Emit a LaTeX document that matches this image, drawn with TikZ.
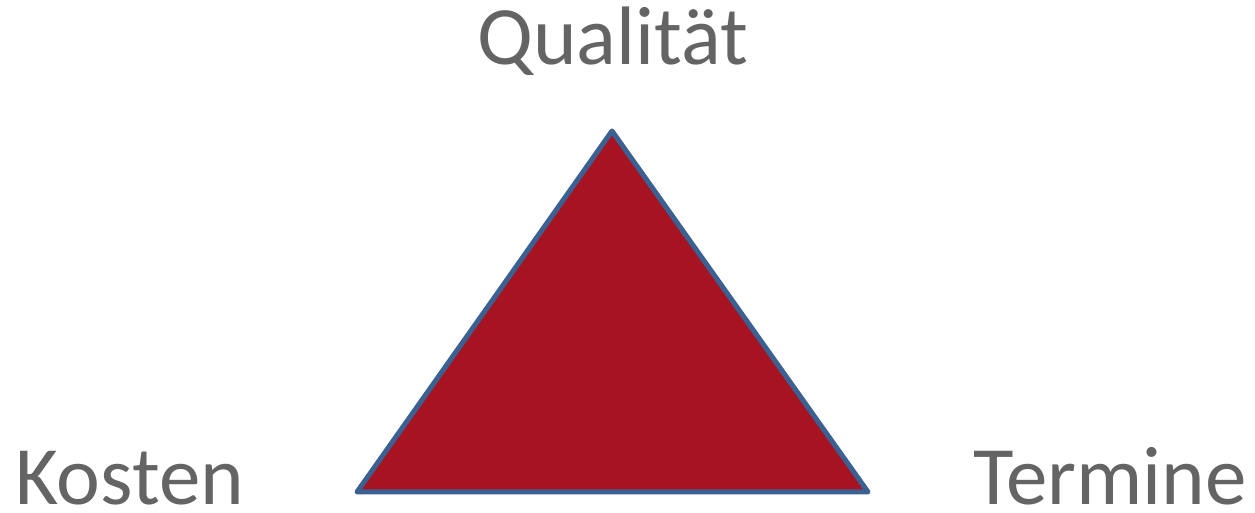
\documentclass[tikz,border=0pt]{standalone}
\usepackage{fontspec}
\setmainfont{Carlito}
\usepackage{tikz}
\usetikzlibrary{positioning}
\definecolor{trired}{HTML}{A61422}
\definecolor{triblue}{HTML}{3B6092}
\definecolor{lblgray}{HTML}{646464}

\begin{document}
\begin{tikzpicture}[x=1pt,y=1pt]
    \tikzstyle{tri} = [draw=triblue, fill=trired, line width=5pt, line join=round]
    \tikzstyle{lbl} = [inner sep=0pt, text depth=0pt, text=lblgray, font=\fontsize{83}{99}\selectfont]

    \useasboundingbox (0,0) rectangle (1255,513);
    \coordinate (top) at (612,382);
    \coordinate (botleft) at (357,21);
    \coordinate (botright) at (868,21);
    \path [tri] (top) -- (botleft) -- (botright) -- cycle;
    %
    \node [lbl, anchor=base] (qual) at (613,448) {Qualität};
    \node [lbl, anchor=base west] (kost) at (15,8) {Kosten};
    \node [lbl, anchor=base east] (term) at (1247,8) {Termine};
\end{tikzpicture}
\end{document}
